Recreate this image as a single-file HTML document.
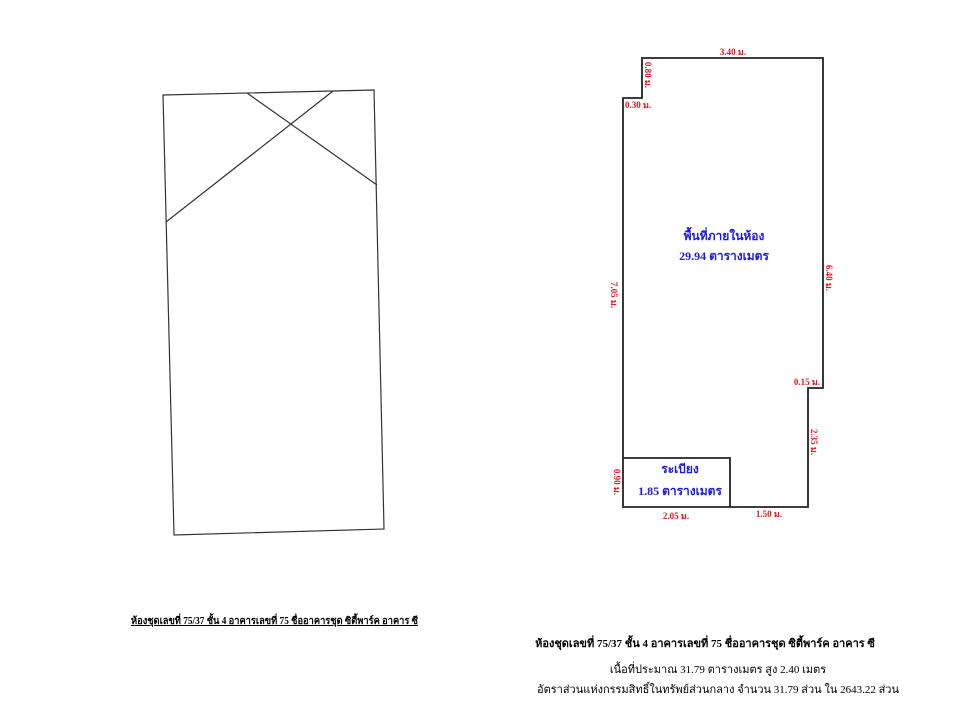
<!DOCTYPE html>
<html><head><meta charset="utf-8"><style>
body{margin:0;background:#fff;width:960px;height:720px;overflow:hidden}
svg{display:block}
.r{fill:#e8141c;font-family:"Liberation Serif","Noto Serif CJK SC",serif;font-weight:bold;font-size:9px}
.b{fill:#1a1ae6;font-family:"Liberation Serif","Noto Sans CJK SC",serif;font-weight:bold;font-size:12px}
.k{fill:#000;font-family:"Liberation Serif","Noto Sans CJK SC",serif}
</style></head><body>
<svg width="960" height="720" viewBox="0 0 960 720">
<g fill="none" stroke="#333" stroke-width="1.2">
<polygon points="163,95 374,90 384,529 174,535"/>
<line x1="247" y1="93" x2="377" y2="185"/>
<line x1="333" y1="91" x2="166" y2="222"/>
</g>
<g fill="none" stroke="#222" stroke-width="1.8">
<polygon points="642,58 823,58 823,388 808,388 808,507 623,507 623,98 642,98"/>
<polyline points="623,458 730,458 730,507"/>
</g>
<text class="r" x="733" y="55" text-anchor="middle">3.40 ม.</text>
<text class="r" x="625" y="108">0.30 ม.</text>
<text class="r" x="820" y="385" text-anchor="end">0.15 ม.</text>
<text class="r" x="676" y="519" text-anchor="middle">2.05 ม.</text>
<text class="r" x="769" y="517" text-anchor="middle">1.50 ม.</text>
<text class="r" transform="translate(645,75) rotate(90)" text-anchor="middle">0.80 ม.</text>
<text class="r" transform="translate(611,295) rotate(90)" text-anchor="middle">7.05 ม.</text>
<text class="r" transform="translate(826,278) rotate(90)" text-anchor="middle">6.40 ม.</text>
<text class="r" transform="translate(811,442) rotate(90)" text-anchor="middle">2.35 ม.</text>
<text class="r" transform="translate(614,482) rotate(90)" text-anchor="middle">0.90 ม.</text>
<text class="b" x="724" y="240" text-anchor="middle">พื้นที่ภายในห้อง</text>
<text class="b" x="724" y="260" text-anchor="middle">29.94 ตารางเมตร</text>
<text class="b" x="680" y="473" text-anchor="middle">ระเบียง</text>
<text class="b" x="680" y="495" text-anchor="middle">1.85 ตารางเมตร</text>
<text class="k" x="131" y="624" font-size="10" font-weight="bold" text-decoration="underline" textLength="287" lengthAdjust="spacingAndGlyphs">ห้องชุดเลขที่ 75/37 ชั้น 4 อาคารเลขที่ 75 ชื่ออาคารชุด ซิตี้พาร์ค อาคาร ซี</text>
<text class="k" x="705" y="647" text-anchor="middle" font-size="11" font-weight="bold">ห้องชุดเลขที่ 75/37 ชั้น 4 อาคารเลขที่ 75 ชื่ออาคารชุด ซิตี้พาร์ค อาคาร ซี</text>
<text class="k" x="718" y="673" text-anchor="middle" font-size="11">เนื้อที่ประมาณ 31.79 ตารางเมตร สูง 2.40 เมตร</text>
<text class="k" x="718" y="693" text-anchor="middle" font-size="11">อัตราส่วนแห่งกรรมสิทธิ์ในทรัพย์ส่วนกลาง จำนวน 31.79 ส่วน ใน 2643.22 ส่วน</text>
</svg>
</body></html>
